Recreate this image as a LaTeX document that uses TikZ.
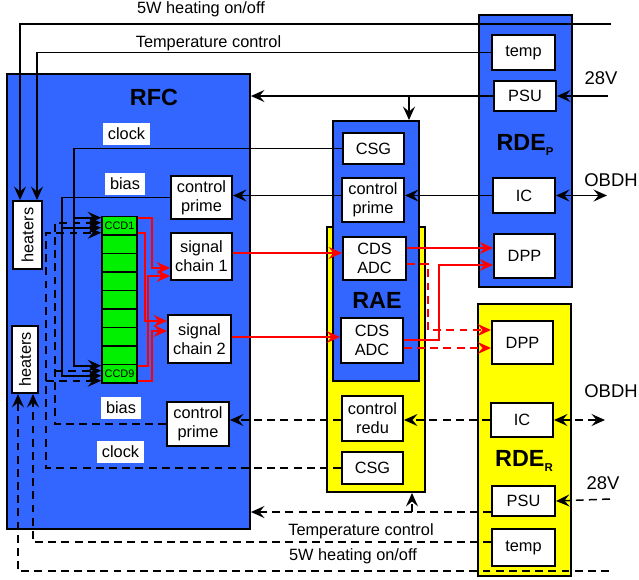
\documentclass[tikz,border=0pt]{standalone}
\usepackage{fontspec}
\setmainfont{Liberation Sans}
\usetikzlibrary{arrows.meta, calc, positioning}
\definecolor{unitblue}{HTML}{3366FF}
\definecolor{unityellow}{HTML}{FFFF00}
\definecolor{ccdgreen}{HTML}{00F000}
\tikzset{
	unitnode/.style={
			rectangle,
			draw=black,
			line width=1.1pt,
			inner sep=0pt
		},
	primeunit/.style={
			unitnode,
			fill=unitblue
		},
	reduunit/.style={
			unitnode,
			fill=unityellow
		},
	boxnode/.style={
			rectangle,
			draw=black,
			line width=1.1pt,
			fill=white,
			align=center,
			inner sep=0pt,
			minimum width=12.4mm,
			minimum height=8.8mm
		},
	ccdnode/.style={
			rectangle,
			draw=black,
			line width=0.9pt,
			fill=ccdgreen,
			minimum width=7mm,
			minimum height=3.7mm,
			inner sep=0pt,
			font=\fontsize{6.2}{7}\selectfont
		}
}
\tikzset{
	titletext/.style={font=\fontsize{13.3}{15}\selectfont\bfseries},
	labeltext/.style={fill=white, inner sep=1mm},
	outtext/.style={font=\fontsize{10.5}{12}\selectfont}
}
\tikzset{
	conn/.style={line width=0.85pt},
	dconn/.style={conn, dash pattern=on 4.5pt off 3pt},
	rconn/.style={conn, red},
	rdconn/.style={rconn, dash pattern=on 4.5pt off 3pt}
}
\newcommand{\unitsub}[1]{\raisebox{-2.6pt}{\fontsize{6.5}{7}\selectfont #1}}

\begin{document}
\begin{tikzpicture}[x=0.02cm, y=-0.02cm,
    >={Stealth[length=2.7mm, width=2.4mm, inset=1mm]},
    font=\fontsize{9.3}{10.8}\selectfont]
\useasboundingbox (0,0) rectangle (639,579);

% units
\node[primeunit, minimum width=48.6mm, minimum height=91mm] (rfc) at (128.5,301.5) {};
\node[reduunit, minimum width=19.6mm, minimum height=53mm] (raeY) at (376,359.5) {};
\node[primeunit, minimum width=17.2mm, minimum height=52mm] (raeB) at (376,251) {};
\node[primeunit, minimum width=18.6mm, minimum height=54.4mm] (rdeP) at (525.5,151) {};
\node[reduunit, minimum width=18.6mm, minimum height=54.4mm] (rdeR) at (524.5,440) {};

\node[titletext] (rfcT) at (154,97) {RFC};
\node[titletext] (raeT) at (377,300) {RAE};
\node[titletext] (rdePT) at (525,145) {RDE\unitsub{P}};
\node[titletext] (rdeRT) at (524,461) {RDE\unitsub{R}};

% RFC
\node[boxnode, minimum width=5.8mm, minimum height=13.6mm] (heatA) at (27.5,235) {\rotatebox{90}{heaters}};
\node[boxnode, minimum width=5.2mm, minimum height=13.4mm] (heatB) at (25,359.5) {\rotatebox{90}{heaters}};
\node[boxnode, minimum width=12.2mm, minimum height=8.6mm] (ctrlA) at (201.5,197.5) {control\\prime};
\node[boxnode, minimum width=12.2mm, minimum height=9.4mm] (sc1) at (201.5,256.5) {signal\\chain 1};
\node[boxnode, minimum width=12.6mm, minimum height=9.6mm] (sc2) at (199.5,339) {signal\\chain 2};
\node[boxnode] (ctrlB) at (198,424) {control\\prime};

\foreach \i/\t in {1/CCD1,2/,3/,4/,5/,6/,7/,8/,9/CCD9}
  \node[ccdnode] (ccd\i) at (119.5,{216.5+18.5*(\i-0.5)}) {\t};

% RAE
\node[boxnode, minimum width=12.2mm, minimum height=6.2mm] (csgA) at (373.5,148.5) {CSG};
\node[boxnode] (ctrlC) at (373,200) {control\\prime};
\node[boxnode, minimum width=12.6mm, minimum height=8.6mm] (adcA) at (374.5,258.5) {CDS\\ADC};
\node[boxnode, minimum height=9mm] (adcB) at (372,340.5) {CDS\\ADC};
\node[boxnode, minimum width=12.2mm, minimum height=9mm] (ctrlD) at (372.5,418.5) {control\\redu};
\node[boxnode, minimum width=12.2mm, minimum height=6.4mm] (csgB) at (372.5,468) {CSG};

% RDE
\node[boxnode, minimum width=12.6mm, minimum height=7mm] (tempA) at (523.5,52.5) {temp};
\node[boxnode, minimum height=6mm] (psuA) at (525,96) {PSU};
\node[boxnode, minimum height=7mm] (icA) at (524,195.5) {IC};
\node[boxnode, minimum width=12.2mm] (dppA) at (524.5,256) {DPP};
\node[boxnode, minimum width=12.2mm, minimum height=8.6mm] (dppB) at (522.5,342.5) {DPP};
\node[boxnode, minimum height=6.8mm] (icB) at (522,420) {IC};
\node[boxnode, minimum width=12.6mm, minimum height=6mm] (psuB) at (523.5,501) {PSU};
\node[boxnode, minimum width=12.6mm, minimum height=7.4mm] (tempB) at (523.5,547.5) {temp};

% texts
\node (heatTopT) at (201,9) {5W heating on/off};
\node (tempTopT) at (208.5,43) {Temperature control};
\node (tempBotT) at (361,531) {Temperature control};
\node (heatBotT) at (353,556) {5W heating on/off};
\node[outtext] (v28PT) at (601,78) {28V};
\node[outtext] (obdhPT) at (611,180) {OBDH};
\node[outtext] (obdhRT) at (611,391) {OBDH};
\node[outtext] (v28RT) at (603,483) {28V};
\node[labeltext] (clockA) at (126.5,134) {clock};
\node[labeltext] (biasA) at (125,183.5) {bias};
\node[labeltext] (biasB) at (121,408) {bias};
\node[labeltext] (clockB) at (120.5,452) {clock};

\coordinate (heatOnP) at (611,24);
\coordinate (v28P) at (608,96);
\coordinate (obdhP) at (607,195.5);
\coordinate (heatOnR) at (609,571);
\coordinate (v28R) at (610,499);
\coordinate (obdhR) at (605,420);
\coordinate (psuBin) at ($(psuB.west)+(0,11)$);

% prime
\draw[conn, ->] (heatOnP) -| ($(heatA.north)+(-7.5,0)$);
\draw[conn, ->] (tempA.west) -| ($(heatA.north)+(9.5,0)$);
\draw[conn, ->] (v28P) -- (psuA.east);
\draw[conn, ->] (psuA.west) -- (rfc.east |- psuA.west);
\draw[conn, ->] (psuA.west) -| ($(raeB.north)+(33,0)$);
\draw[conn, <->] (icA.east) -- (obdhP);
\draw[conn, ->] (icA.west) -- (ctrlC.east |- icA.west);
\draw[conn, ->] (ctrlC.west |- icA.west) -- (ctrlA.east |- icA.west);

\draw[conn, ->] (csgA.west) -| ($(ccd9.west)+(-27,-8)$) -- ($(ccd9.west)+(0,-8)$);
\draw[conn, ->] ($(ccd1.west)+(-27,-8)$) -- ($(ccd1.west)+(0,-8)$);
\draw[conn, ->] (ctrlA.west) -| ($(ccd9.west)+(-39,2)$) -- ($(ccd9.west)+(0,2)$);
\draw[conn, ->] ($(ccd1.west)+(-39,2)$) -- ($(ccd1.west)+(0,2)$);

% redundant
\draw[dconn, ->] (ctrlB.west) -| ($(ccd1.west)+(-46,-3)$) -- ($(ccd1.west)+(0,-3)$);
\draw[dconn, ->] ($(ccd9.west)+(-46,-3)$) -- ($(ccd9.west)+(0,-3)$);
\draw[dconn, ->] (csgB.west) -| ($(ccd1.west)+(-55,7)$) -- ($(ccd1.west)+(0,7)$);
\draw[dconn, ->] ($(ccd9.west)+(-55,7)$) -- ($(ccd9.west)+(0,7)$);

\draw[dconn, <->] (icB.east) -- (obdhR);
\draw[dconn, ->] (icB.west) -- (ctrlD.east |- icB.west);
\draw[dconn, ->] (ctrlD.west |- icB.west) -- (ctrlB.east |- icB.west);
\draw[dconn, ->] (v28R) -- (psuB.east);
\draw[dconn, ->] (psuBin) -- (rfc.east |- psuBin);
\draw[dconn, ->] (psuBin) -| ($(raeY.south)+(36,0)$);
\draw[dconn, ->] (heatOnR) -| ($(heatB.south)+(-7,0)$);
\draw[dconn, ->] ($(tempB.west)+(0,-5.5)$) -| ($(heatB.south)+(8,0)$);

% signal
\draw[rconn, ->] ($(ccd1.east)+(0,-8)$) -- ++(14,0) |- ($(sc1.west)+(0,11.5)$);
\draw[rconn, ->] ($(ccd1.east)+(0,7)$) -- ++(7,0) |- ($(sc2.west)+(0,-18)$);
\draw[rconn, ->] ($(ccd9.east)+(0,-8)$) -- ++(10,0) |- ($(sc1.west)+(0,19.5)$);
\draw[rconn, ->] ($(ccd9.east)+(0,7)$) -- ++(14,0) |- ($(sc2.west)+(0,-8)$);
\draw[rconn, ->] ($(sc1.east)+(0,-3.5)$) -- ($(adcA.west)+(0,-5.5)$);
\draw[rconn, ->] ($(sc2.east)+(0,-2)$) -- ($(adcB.west)+(0,-3.5)$);
\draw[rconn, ->] ($(adcA.east)+(0,-10.5)$) -- ($(dppA.west)+(0,-8)$);
\draw[rdconn, ->] ($(adcA.east)+(0,5.5)$) -- ++(21,0) |- ($(dppB.west)+(0,-12.5)$);
\draw[rconn, ->] ($(adcB.east)+(0,-0.5)$) -- ++(35,0) |- ($(dppA.west)+(0,9)$);
\draw[rdconn, ->] ($(adcB.east)+(0,7.5)$) -- ($(dppB.west)+(0,5.5)$);
\end{tikzpicture}
\end{document}
